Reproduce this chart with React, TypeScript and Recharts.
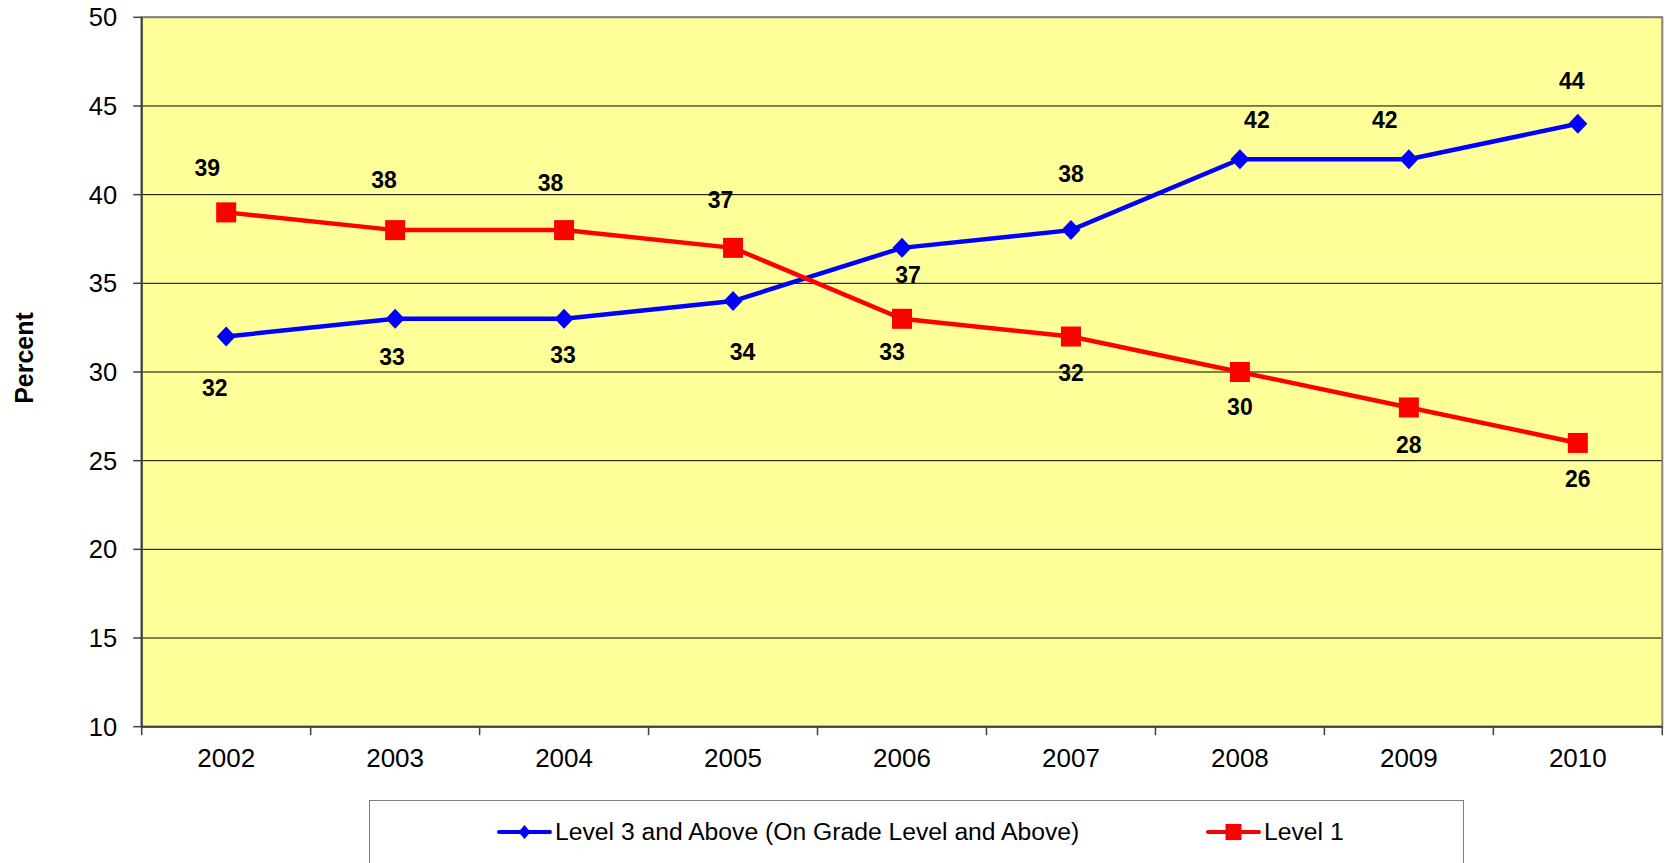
import React from "react";
import {
  LineChart,
  Line,
  XAxis,
  YAxis,
  CartesianGrid,
  ReferenceArea,
  LabelList,
  Label,
  Legend,
} from "recharts";

const years = ["2002", "2003", "2004", "2005", "2006", "2007", "2008", "2009", "2010"];
const level3Values = [32, 33, 33, 34, 37, 38, 42, 42, 44];
const level1Values = [39, 38, 38, 37, 33, 32, 30, 28, 26];
const yTicks = [10, 15, 20, 25, 30, 35, 40, 45, 50];

// where each data label sits relative to its point (dx, dy), as placed by hand in the original
const level3LabelOffset = [
  [-11.5, 51], [-3, 38], [-1, 36], [9.5, 51], [6, 27], [0, -56], [17, -39], [-24, -39], [-6, -43],
];
const level1LabelOffset = [
  [-19, -45], [-11, -50], [-13.5, -47], [-12.5, -48], [-10, 33], [0, 36], [0, 35], [0, 37], [0, 36],
];

const FONT = '"Liberation Sans", Arial, sans-serif';
const BLUE = "#0000FF";
const RED = "#FF0000";

const data = years.map((year, i) => ({
  idx: i,
  year,
  level3: level3Values[i],
  level1: level1Values[i],
}));

// category boundaries get tick marks, centers get the year labels
const xTicks: number[] = [];
for (let i = 0; i <= years.length; i++) {
  xTicks.push(i - 0.5);
  if (i < years.length) xTicks.push(i);
}

const Diamond = ({ cx, cy, w = 9.5, h = 10, fill = BLUE }: any) => (
  <polygon
    points={`${cx},${cy - h} ${cx + w},${cy} ${cx},${cy + h} ${cx - w},${cy}`}
    fill={fill}
  />
);

const Square = ({ cx, cy, s = 10, fill = RED }: any) => (
  <rect x={cx - s} y={cy - s} width={s * 2} height={s * 2} fill={fill} />
);

const YearTick = (props: any) => {
  const { x, y, payload } = props;
  const v = payload.value;
  if (!Number.isInteger(v)) {
    return <line x1={x} y1={y} x2={x} y2={y + 8.5} stroke="#404040" strokeWidth={1.5} />;
  }
  return (
    <text x={x} y={y + 40.5} textAnchor="middle" fontFamily={FONT} fontSize={26} fill="#000">
      {years[v]}
    </text>
  );
};

const makeLabel = (offsets: number[][]) => (props: any) => {
  const { x, y, value, index } = props;
  const [dx, dy] = offsets[index] || [0, -30];
  return (
    <text
      x={x + dx}
      y={y + dy + 8.2}
      textAnchor="middle"
      fontFamily={FONT}
      fontWeight="bold"
      fontSize={23}
      fill="#000"
    >
      {value}
    </text>
  );
};

const PercentTitle = (props: any) => {
  const { viewBox } = props;
  const bx = viewBox.x + 33;
  const cy = viewBox.y + viewBox.height / 2 - 14;
  return (
    <text
      x={bx}
      y={cy}
      transform={`rotate(-90, ${bx}, ${cy})`}
      textAnchor="middle"
      fontFamily={FONT}
      fontWeight="bold"
      fontSize={25}
      fill="#000"
    >
      Percent
    </text>
  );
};

const legendItems = [
  { label: "Level 3 and Above (On Grade Level and Above)", color: BLUE, marker: "diamond", left: 127 },
  { label: "Level 1", color: RED, marker: "square", left: 836 },
];

const ChartLegend = () => (
  <div
    style={{
      position: "relative",
      boxSizing: "border-box",
      width: "100%",
      height: "100%",
      border: "1.5px solid #808080",
      background: "#fff",
    }}
  >
    {legendItems.map((item) => (
      <div
        key={item.label}
        style={{
          position: "absolute",
          left: item.left,
          top: 15.5,
          display: "flex",
          alignItems: "center",
          height: 30,
        }}
      >
        <svg width={55} height={30} style={{ marginRight: 3 }}>
          <line x1={2} y1={15} x2={53} y2={15} stroke={item.color} strokeWidth={4} strokeLinecap="round" />
          {item.marker === "diamond" ? (
            <Diamond cx={27.5} cy={15} w={6} h={7} fill={item.color} />
          ) : (
            <Square cx={27.5} cy={15} s={8} fill={item.color} />
          )}
        </svg>
        <span style={{ fontFamily: FONT, fontSize: 24.7, lineHeight: "30px", color: "#000", whiteSpace: "nowrap" }}>
          {item.label}
        </span>
      </div>
    ))}
  </div>
);

export default function App() {
  return (
    <div
      style={{
        position: "absolute",
        left: 0,
        top: 0,
        width: 1667,
        height: 863,
        overflow: "hidden",
        background: "#fff",
      }}
    >
      <LineChart
        width={1667}
        height={863}
        data={data}
        margin={{ top: 17.3, right: 4.7, bottom: 96.3, left: 0 }}
      >
        <CartesianGrid vertical={false} fill="#FFFF99" stroke="#000" strokeWidth={1} />
        <ReferenceArea
          x1={-0.5}
          x2={8.5}
          y1={10}
          y2={50}
          fill="none"
          stroke="#808080"
          strokeWidth={2}
          ifOverflow="visible"
        />
        <XAxis
          dataKey="idx"
          type="number"
          domain={[-0.5, 8.5]}
          ticks={xTicks}
          interval={0}
          tickLine={false}
          tickSize={0}
          tickMargin={0}
          height={40}
          axisLine={{ stroke: "#404040", strokeWidth: 2 }}
          tick={<YearTick />}
        />
        <YAxis
          type="number"
          domain={[10, 50]}
          ticks={yTicks}
          interval={0}
          width={141.7}
          tickSize={8.5}
          tickMargin={16}
          axisLine={{ stroke: "#404040", strokeWidth: 2 }}
          tickLine={{ stroke: "#404040", strokeWidth: 1.5 }}
          tick={{ fontFamily: FONT, fontSize: 25.5, fill: "#000" }}
        >
          <Label content={<PercentTitle />} />
        </YAxis>
        <Legend
          verticalAlign="middle"
          layout="horizontal"
          content={<ChartLegend />}
          wrapperStyle={{ left: 369, top: 800, width: 1095, height: 70 }}
        />
        <Line
          dataKey="level3"
          stroke={BLUE}
          strokeWidth={4.5}
          isAnimationActive={false}
          dot={(p: any) => <Diamond key={`d-${p.index}`} cx={p.cx} cy={p.cy} />}
          activeDot={false}
        >
          <LabelList dataKey="level3" content={makeLabel(level3LabelOffset)} />
        </Line>
        <Line
          dataKey="level1"
          stroke={RED}
          strokeWidth={4.5}
          isAnimationActive={false}
          dot={(p: any) => <Square key={`s-${p.index}`} cx={p.cx} cy={p.cy} />}
          activeDot={false}
        >
          <LabelList dataKey="level1" content={makeLabel(level1LabelOffset)} />
        </Line>
      </LineChart>
    </div>
  );
}
